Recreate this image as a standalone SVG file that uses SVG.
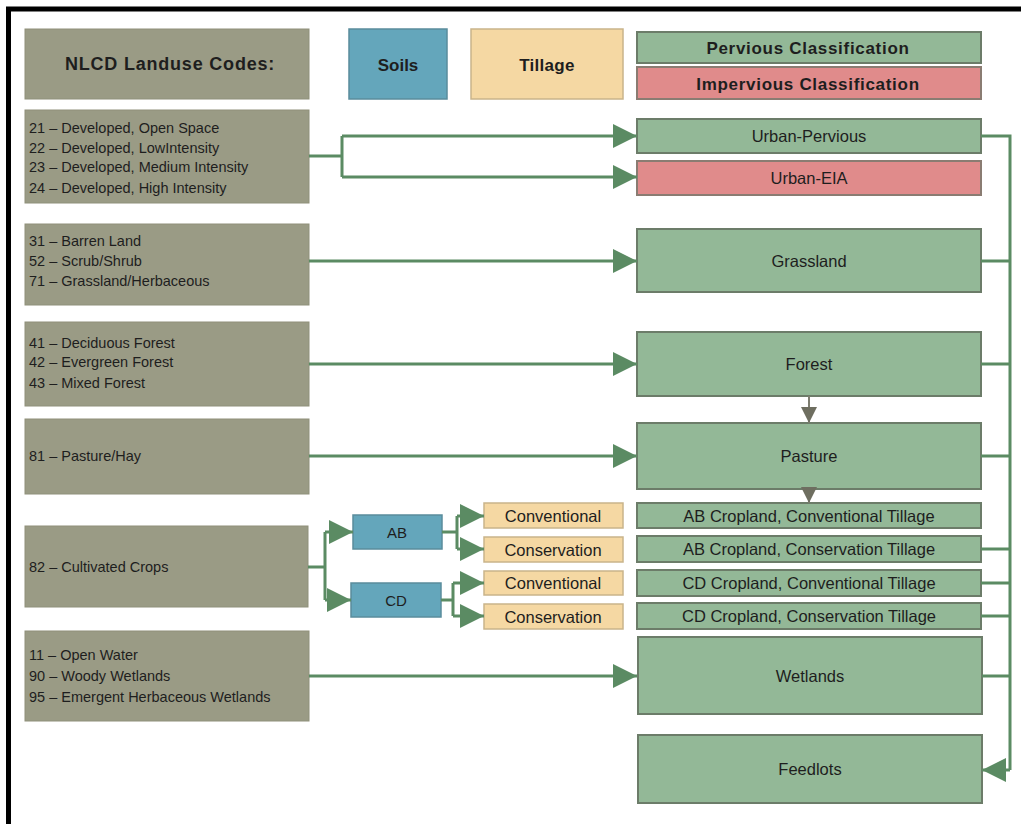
<svg xmlns="http://www.w3.org/2000/svg" width="1021" height="824" viewBox="0 0 1021 824">
<style>
.land{fill:#9a9b85;stroke:#8f907a;stroke-width:1}
.soil{fill:#64a6bb;stroke:#5a8c9c;stroke-width:1.5}
.till{fill:#f5d8a3;stroke:#c9b48a;stroke-width:1.5}
.perv{fill:#93b897;stroke:#6c7c69;stroke-width:2}
.imp{fill:#e08b8b;stroke:#8a7c72;stroke-width:2}
text{font-family:"Liberation Sans",Arial,sans-serif;fill:#1e1e1e}
.lt{font-size:14.5px}
.ct{font-size:16.5px;text-anchor:middle;dominant-baseline:central}
.hd{font-size:17px;font-weight:bold;text-anchor:middle;dominant-baseline:central}
.con{fill:none;stroke:#5b8b63;stroke-width:3}
.gcon{fill:none;stroke:#7d7d70;stroke-width:2}
</style>
<defs>
<marker id="ah" viewBox="0 0 24 24" markerWidth="24" markerHeight="24" markerUnits="userSpaceOnUse" refX="24" refY="12" orient="auto">
<path d="M0,0 L24,12 L0,24 z" fill="#5b8b63"/>
</marker>
<marker id="gh" viewBox="0 0 16 16" markerWidth="16" markerHeight="16" markerUnits="userSpaceOnUse" refX="16" refY="8" orient="auto">
<path d="M0,0 L16,8 L0,16 z" fill="#6e6e60"/>
</marker>
</defs>
<rect x="0" y="0" width="1021" height="824" fill="#ffffff"/>
<rect x="8.5" y="9" width="1040" height="840" fill="none" stroke="#000" stroke-width="5"/>

<g id="legend-nlcd"><rect class="land" x="25" y="29" width="284" height="70"/><text class="hd" x="170" y="64" style="font-size:18px;letter-spacing:0.8px">NLCD Landuse Codes:</text></g>
<g id="legend-soils"><rect class="soil" x="349" y="29" width="98" height="70"/><text class="hd" x="398" y="65">Soils</text></g>
<g id="legend-tillage"><rect class="till" x="471" y="29" width="152" height="70"/><text class="hd" x="547" y="65" style="letter-spacing:0.3px">Tillage</text></g>
<g id="legend-pervious"><rect class="perv" x="637" y="32" width="344" height="31"/><text class="hd" x="808" y="48" style="letter-spacing:0.7px">Pervious Classification</text></g>
<g id="legend-impervious"><rect class="imp" x="637" y="67" width="344" height="32"/><text class="hd" x="808" y="84" style="letter-spacing:0.7px">Impervious Classification</text></g>

<g id="nlcd-developed"><rect class="land" x="25" y="110" width="284" height="93"/>
<text class="lt" x="29" y="133">21 – Developed, Open Space</text>
<text class="lt" x="29" y="153">22 – Developed, LowIntensity</text>
<text class="lt" x="29" y="172">23 – Developed, Medium Intensity</text>
<text class="lt" x="29" y="193">24 – Developed, High Intensity</text></g>
<g id="nlcd-grass"><rect class="land" x="25" y="224" width="284" height="81"/>
<text class="lt" x="29" y="246">31 – Barren Land</text>
<text class="lt" x="29" y="266">52 – Scrub/Shrub</text>
<text class="lt" x="29" y="286">71 – Grassland/Herbaceous</text></g>
<g id="nlcd-forest"><rect class="land" x="25" y="322" width="284" height="84"/>
<text class="lt" x="29" y="348">41 – Deciduous Forest</text>
<text class="lt" x="29" y="367">42 – Evergreen Forest</text>
<text class="lt" x="29" y="388">43 – Mixed Forest</text></g>
<g id="nlcd-pasture"><rect class="land" x="25" y="419" width="284" height="75"/>
<text class="lt" x="29" y="461">81 – Pasture/Hay</text></g>
<g id="nlcd-crops"><rect class="land" x="25" y="526" width="283" height="81"/>
<text class="lt" x="29" y="572">82 – Cultivated Crops</text></g>
<g id="nlcd-wetlands"><rect class="land" x="25" y="631" width="284" height="90"/>
<text class="lt" x="29" y="660">11 – Open Water</text>
<text class="lt" x="29" y="681">90 – Woody Wetlands</text>
<text class="lt" x="29" y="702">95 – Emergent Herbaceous Wetlands</text></g>

<g id="soil-ab"><rect class="soil" x="353" y="515" width="89" height="34"/><text class="ct" x="397" y="532" style="font-size:15px">AB</text></g>
<g id="soil-cd"><rect class="soil" x="351" y="583" width="90" height="34"/><text class="ct" x="396" y="600" style="font-size:15px">CD</text></g>

<g id="till-ab-conv"><rect class="till" x="484" y="503" width="139" height="25"/><text class="ct" x="553" y="516">Conventional</text></g>
<g id="till-ab-cons"><rect class="till" x="484" y="537" width="139" height="25"/><text class="ct" x="553" y="550">Conservation</text></g>
<g id="till-cd-conv"><rect class="till" x="484" y="571" width="139" height="24"/><text class="ct" x="553" y="583">Conventional</text></g>
<g id="till-cd-cons"><rect class="till" x="484" y="604" width="139" height="25"/><text class="ct" x="553" y="617">Conservation</text></g>

<g id="urban-pervious"><rect class="perv" x="637" y="119" width="344" height="34"/><text class="ct" x="809" y="136">Urban-Pervious</text></g>
<g id="urban-eia"><rect class="imp" x="637" y="161" width="344" height="34"/><text class="ct" x="809" y="178">Urban-EIA</text></g>
<g id="grassland"><rect class="perv" x="637" y="229" width="344" height="63"/><text class="ct" x="809" y="261">Grassland</text></g>
<g id="forest"><rect class="perv" x="637" y="332" width="344" height="64"/><text class="ct" x="809" y="364">Forest</text></g>
<g id="pasture"><rect class="perv" x="637" y="423" width="344" height="66"/><text class="ct" x="809" y="456">Pasture</text></g>
<g id="ab-conv"><rect class="perv" x="637" y="503" width="344" height="25"/><text class="ct" x="809" y="516">AB Cropland, Conventional Tillage</text></g>
<g id="ab-cons"><rect class="perv" x="637" y="536" width="344" height="26"/><text class="ct" x="809" y="549">AB Cropland, Conservation Tillage</text></g>
<g id="cd-conv"><rect class="perv" x="637" y="570" width="344" height="26"/><text class="ct" x="809" y="583">CD Cropland, Conventional Tillage</text></g>
<g id="cd-cons"><rect class="perv" x="637" y="603" width="344" height="26"/><text class="ct" x="809" y="616">CD Cropland, Conservation Tillage</text></g>
<g id="wetlands"><rect class="perv" x="638" y="637" width="344" height="77"/><text class="ct" x="810" y="676">Wetlands</text></g>
<g id="feedlots"><rect class="perv" x="638" y="735" width="344" height="68"/><text class="ct" x="810" y="769">Feedlots</text></g>

<g id="connectors">
<path class="con" d="M309,156 H342 M342,136 V177"/>
<path class="con" d="M342,136 H637" marker-end="url(#ah)"/>
<path class="con" d="M342,177 H637" marker-end="url(#ah)"/>
<path class="con" d="M309,261 H637" marker-end="url(#ah)"/>
<path class="con" d="M309,364 H637" marker-end="url(#ah)"/>
<path class="con" d="M309,456 H637" marker-end="url(#ah)"/>
<path class="con" d="M309,676 H637" marker-end="url(#ah)"/>
<path class="con" d="M308,567 H325 M325,532 V600"/>
<path class="con" d="M325,532 H353" marker-end="url(#ah)"/>
<path class="con" d="M325,600 H351" marker-end="url(#ah)"/>
<path class="con" d="M442,532 H457 M457,516 V549"/>
<path class="con" d="M457,516 H484" marker-end="url(#ah)"/>
<path class="con" d="M457,549 H484" marker-end="url(#ah)"/>
<path class="con" d="M441,600 H453 M453,583 V616"/>
<path class="con" d="M453,583 H484" marker-end="url(#ah)"/>
<path class="con" d="M453,616 H484" marker-end="url(#ah)"/>
<path class="gcon" d="M809,396 V423" marker-end="url(#gh)"/>
<path class="gcon" d="M809,489 V503" marker-end="url(#gh)"/>
<path class="con" d="M981,136 H1010 V770"/>
<path class="con" d="M981,261 H1010 M981,364 H1010 M981,456 H1010 M981,549 H1010 M981,583 H1010 M981,616 H1010 M982,676 H1010"/>
<path class="con" d="M1010,770 H982" marker-end="url(#ah)"/>
</g>
</svg>
